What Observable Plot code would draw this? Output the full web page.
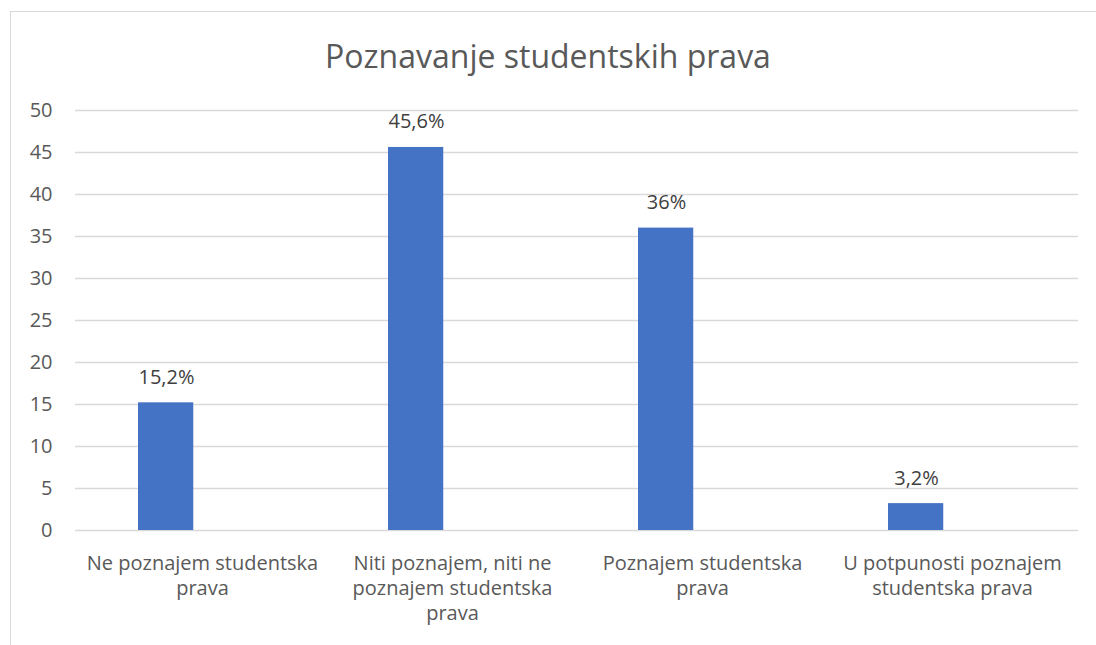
<!DOCTYPE html>
<html>
<head>
<meta charset="utf-8">
<script src="https://cdn.jsdelivr.net/npm/d3@7"></script>
<script src="https://cdn.jsdelivr.net/npm/@observablehq/plot@0.6"></script>
<style>
  html, body { margin: 0; padding: 0; background: #fff; overflow: hidden; width: 1096px; height: 645px; }
  #frame { position: absolute; left: 10px; top: 11px; width: 1200px; height: 800px; border: 1.5px solid #d9d9d9; box-sizing: border-box; }
  #title { position: absolute; left: 0; top: 0; width: 1096px; height: 80px; text-align: center; font-family: "Open Sans", sans-serif; font-size: 32px; color: #595959; line-height: 112px; white-space: nowrap; }
  #chart { position: absolute; left: 0; top: 80px; }
</style>
</head>
<body>
<div id="frame"></div>
<div id="title">Poznavanje studentskih prava</div>
<div id="chart"></div>
<script>
const categories = [
  "Ne poznajem studentska\nprava",
  "Niti poznajem, niti ne\npoznajem studentska\nprava",
  "Poznajem studentska\nprava",
  "U potpunosti poznajem\nstudentska prava"
];
const values = [15.2, 45.6, 36, 3.2];
const valueLabels = ["15,2%", "45,6%", "36%", "3,2%"];
const yTicks = [0, 5, 10, 15, 20, 25, 30, 35, 40, 45, 50];

const data = categories.map((c, i) => ({ category: c, value: values[i], label: valueLabels[i] }));

const bandW = (1096 - 75 - 18) / 4;
const plot = Plot.plot({
  width: 1096,
  height: 565,
  marginLeft: 75,
  marginRight: 18,
  marginTop: 30,
  marginBottom: 115,
  style: { fontFamily: "Open Sans, sans-serif", fontSize: "20px", color: "#595959", background: "transparent" },
  x: { domain: categories, padding: 0, label: null },
  y: { domain: [0, 50], label: null },
  marks: [
    Plot.ruleY(yTicks, { stroke: "#d9d9d9", strokeWidth: 1.3 }),
    Plot.barY(data, { x: "category", y: "value", fill: "#4472C4", insetLeft: 61, insetRight: bandW - 117 }),
    Plot.text(data, { x: "category", y: "value", text: "label", dx: -36, dy: -19, lineAnchor: "bottom", fill: "#404040", fontSize: 20 }),
    Plot.axisY({ ticks: yTicks, tickSize: 0, tickPadding: 23, fontSize: 20, fill: "#595959", label: null }),
    Plot.axisX({ tickSize: 0, tickPadding: 22, fontSize: 20, fill: "#595959", label: null, lineHeight: 1.25 })
  ]
});
document.getElementById("chart").appendChild(plot);
</script>
</body>
</html>
